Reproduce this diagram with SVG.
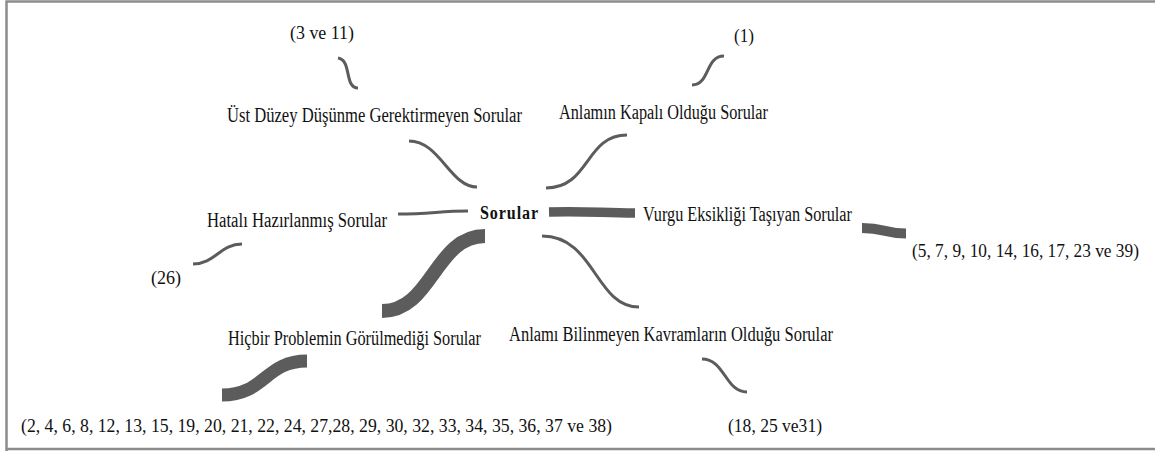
<svg xmlns="http://www.w3.org/2000/svg" width="1155" height="451" viewBox="0 0 1155 451">
  <style>
    .lbl { font-family: "Liberation Serif", "Times New Roman", serif; font-size: 20px; fill: #111; }
    .num { font-family: "Liberation Serif", "Times New Roman", serif; font-size: 19px; fill: #111; }
    .hub { font-family: "Liberation Serif", "Times New Roman", serif; font-size: 18px; font-weight: bold; fill: #111; letter-spacing: 1px; }
    .thin { fill: none; stroke: #5c5c5c; stroke-width: 3; }
    .thick { fill: none; stroke: #5c5c5c; stroke-linecap: butt; }
  </style>
  <rect x="0" y="0" width="1155" height="451" fill="#ffffff"/>
  <!-- frame -->
  <path d="M 6.5 451 L 6.5 1.5 L 1155 1.5 M 6.5 449 L 1155 449" fill="none" stroke="#8c8c8c" stroke-width="2.5"/>

  <g id="connectors">
    <path class="thin" d="M 338 58 C 352 60, 344 88, 358 88"/>
    <path class="thin" d="M 409 141 C 440 141, 450 187, 477 187"/>
    <path class="thin" d="M 546 188 C 590 188, 585 135, 627 135"/>
    <path class="thin" d="M 692 85 C 710 85, 705 56, 724 56"/>
    <path class="thin" d="M 398 214 C 430 214, 440 211, 468 211"/>
    <path class="thick" stroke-width="9.5" d="M 549 212 C 590 211, 600 213, 635 213"/>
    <path class="thick" stroke-width="10" d="M 862 228 C 885 228, 885 233.5, 906 233.5"/>
    <path class="thin" d="M 193 264 C 215 264, 220 244, 242 244"/>
    <path class="thick" stroke-width="14" d="M 485 236 C 435 236, 432 311, 382 311"/>
    <path class="thick" stroke-width="13" d="M 307 361 C 265 361, 265 395, 222 395"/>
    <path class="thin" d="M 542 236 C 595 236, 595 307, 639 307"/>
    <path class="thin" d="M 702 359 C 725 359, 725 392, 747 392"/>
  </g>

  <g id="hub">
    <text class="hub" x="480" y="219" textLength="59" lengthAdjust="spacingAndGlyphs">Sorular</text>
  </g>
  <g id="ust-duzey">
    <text class="lbl" x="227" y="122" textLength="295" lengthAdjust="spacingAndGlyphs">Üst Düzey Düşünme Gerektirmeyen Sorular</text>
  </g>
  <g id="ust-duzey-items">
    <text class="num" x="290" y="39" textLength="64" lengthAdjust="spacingAndGlyphs">(3 ve 11)</text>
  </g>
  <g id="kapali">
    <text class="lbl" x="559" y="119" textLength="209" lengthAdjust="spacingAndGlyphs">Anlamın Kapalı Olduğu Sorular</text>
  </g>
  <g id="kapali-items">
    <text class="num" x="734" y="42" textLength="20" lengthAdjust="spacingAndGlyphs">(1)</text>
  </g>
  <g id="hatali">
    <text class="lbl" x="207" y="227" textLength="180" lengthAdjust="spacingAndGlyphs">Hatalı Hazırlanmış Sorular</text>
  </g>
  <g id="hatali-items">
    <text class="num" x="151" y="284" textLength="30" lengthAdjust="spacingAndGlyphs">(26)</text>
  </g>
  <g id="vurgu">
    <text class="lbl" x="643" y="221" textLength="209" lengthAdjust="spacingAndGlyphs">Vurgu Eksikliği Taşıyan Sorular</text>
  </g>
  <g id="vurgu-items">
    <!-- horizontally condensed face -->
    <text class="num" transform="translate(912 257) scale(0.85 1)" x="0" y="0" textLength="267" lengthAdjust="spacingAndGlyphs">(5, 7, 9, 10, 14, 16, 17, 23 ve 39)</text>
  </g>
  <g id="hicbir">
    <text class="lbl" x="228" y="345" textLength="253" lengthAdjust="spacingAndGlyphs">Hiçbir Problemin Görülmediği Sorular</text>
  </g>
  <g id="hicbir-items">
    <text class="num" x="21" y="432" textLength="591" lengthAdjust="spacingAndGlyphs">(2, 4, 6, 8, 12, 13, 15, 19, 20, 21, 22, 24, 27,28, 29, 30, 32, 33, 34, 35, 36, 37 ve 38)</text>
  </g>
  <g id="bilinmeyen">
    <text class="lbl" x="509" y="341" textLength="324" lengthAdjust="spacingAndGlyphs">Anlamı Bilinmeyen Kavramların Olduğu Sorular</text>
  </g>
  <g id="bilinmeyen-items">
    <text class="num" x="728" y="432" textLength="94" lengthAdjust="spacingAndGlyphs">(18, 25 ve31)</text>
  </g>
</svg>
